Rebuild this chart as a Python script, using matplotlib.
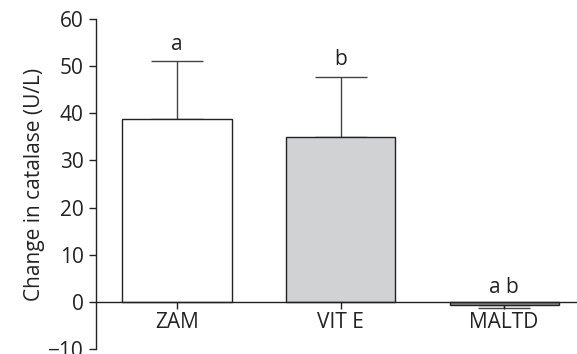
import matplotlib.pyplot as plt
import numpy as np

plt.rcParams['font.family'] = ['Open Sans', 'DejaVu Sans']

# data
groups = ['ZAM', 'VIT E', 'MALTD']
means = [38.7, 35.0, -0.7]
errs = [12.3, 12.8, 0.7]
letters = ['a', 'b', 'a b']
colours = ['white', '#d1d2d4', '#8a8a8a']

fig = plt.figure(figsize=(5.77, 3.54), dpi=100)
ax = fig.add_axes([0.1664, 0.0141, 0.8336, 0.9322])

x = np.arange(len(groups))
ax.bar(x, means, width=0.667, color=colours, edgecolor='#222222', linewidth=1.0, zorder=2)

# one-sided error bars (away from zero)
for xi, m, e in zip(x, means, errs):
    yerr = [[0], [e]] if m >= 0 else [[e], [0]]
    ax.errorbar(xi, m, yerr=yerr, fmt='none', ecolor='#444444',
                elinewidth=1.0, capsize=19, capthick=1.0, zorder=1)

for xi, m, e, lab in zip(x, means, errs, letters):
    ytxt = m + e + 1.3 if m >= 0 else 0.8
    ax.text(xi, ytxt, lab, ha='center', va='bottom', fontsize=15, color='#222222')

ax.set_xlim(-0.495, 2.446)
ax.set_ylim(-10, 60)
ax.set_yticks(np.arange(-10, 61, 10))
ax.set_yticklabels(['\u221210'] + [str(v) for v in range(0, 61, 10)])
ax.set_xticks(x)
ax.set_xticklabels(groups)

ax.spines['top'].set_visible(False)
ax.spines['right'].set_visible(False)
ax.spines['bottom'].set_position(('data', 0))
ax.spines['bottom'].set_zorder(3)
for s in ('left', 'bottom'):
    ax.spines[s].set_linewidth(1.0)
    ax.spines[s].set_color('#222222')

ax.tick_params(axis='both', labelsize=15, colors='#222222', length=5, width=1.0)
ax.tick_params(axis='x', pad=2)
ax.tick_params(axis='y', pad=4)
ax.set_ylabel('Change in catalase (U/L)', fontsize=15, color='#222222', labelpad=2)

fig.savefig('out.png', dpi=100)
